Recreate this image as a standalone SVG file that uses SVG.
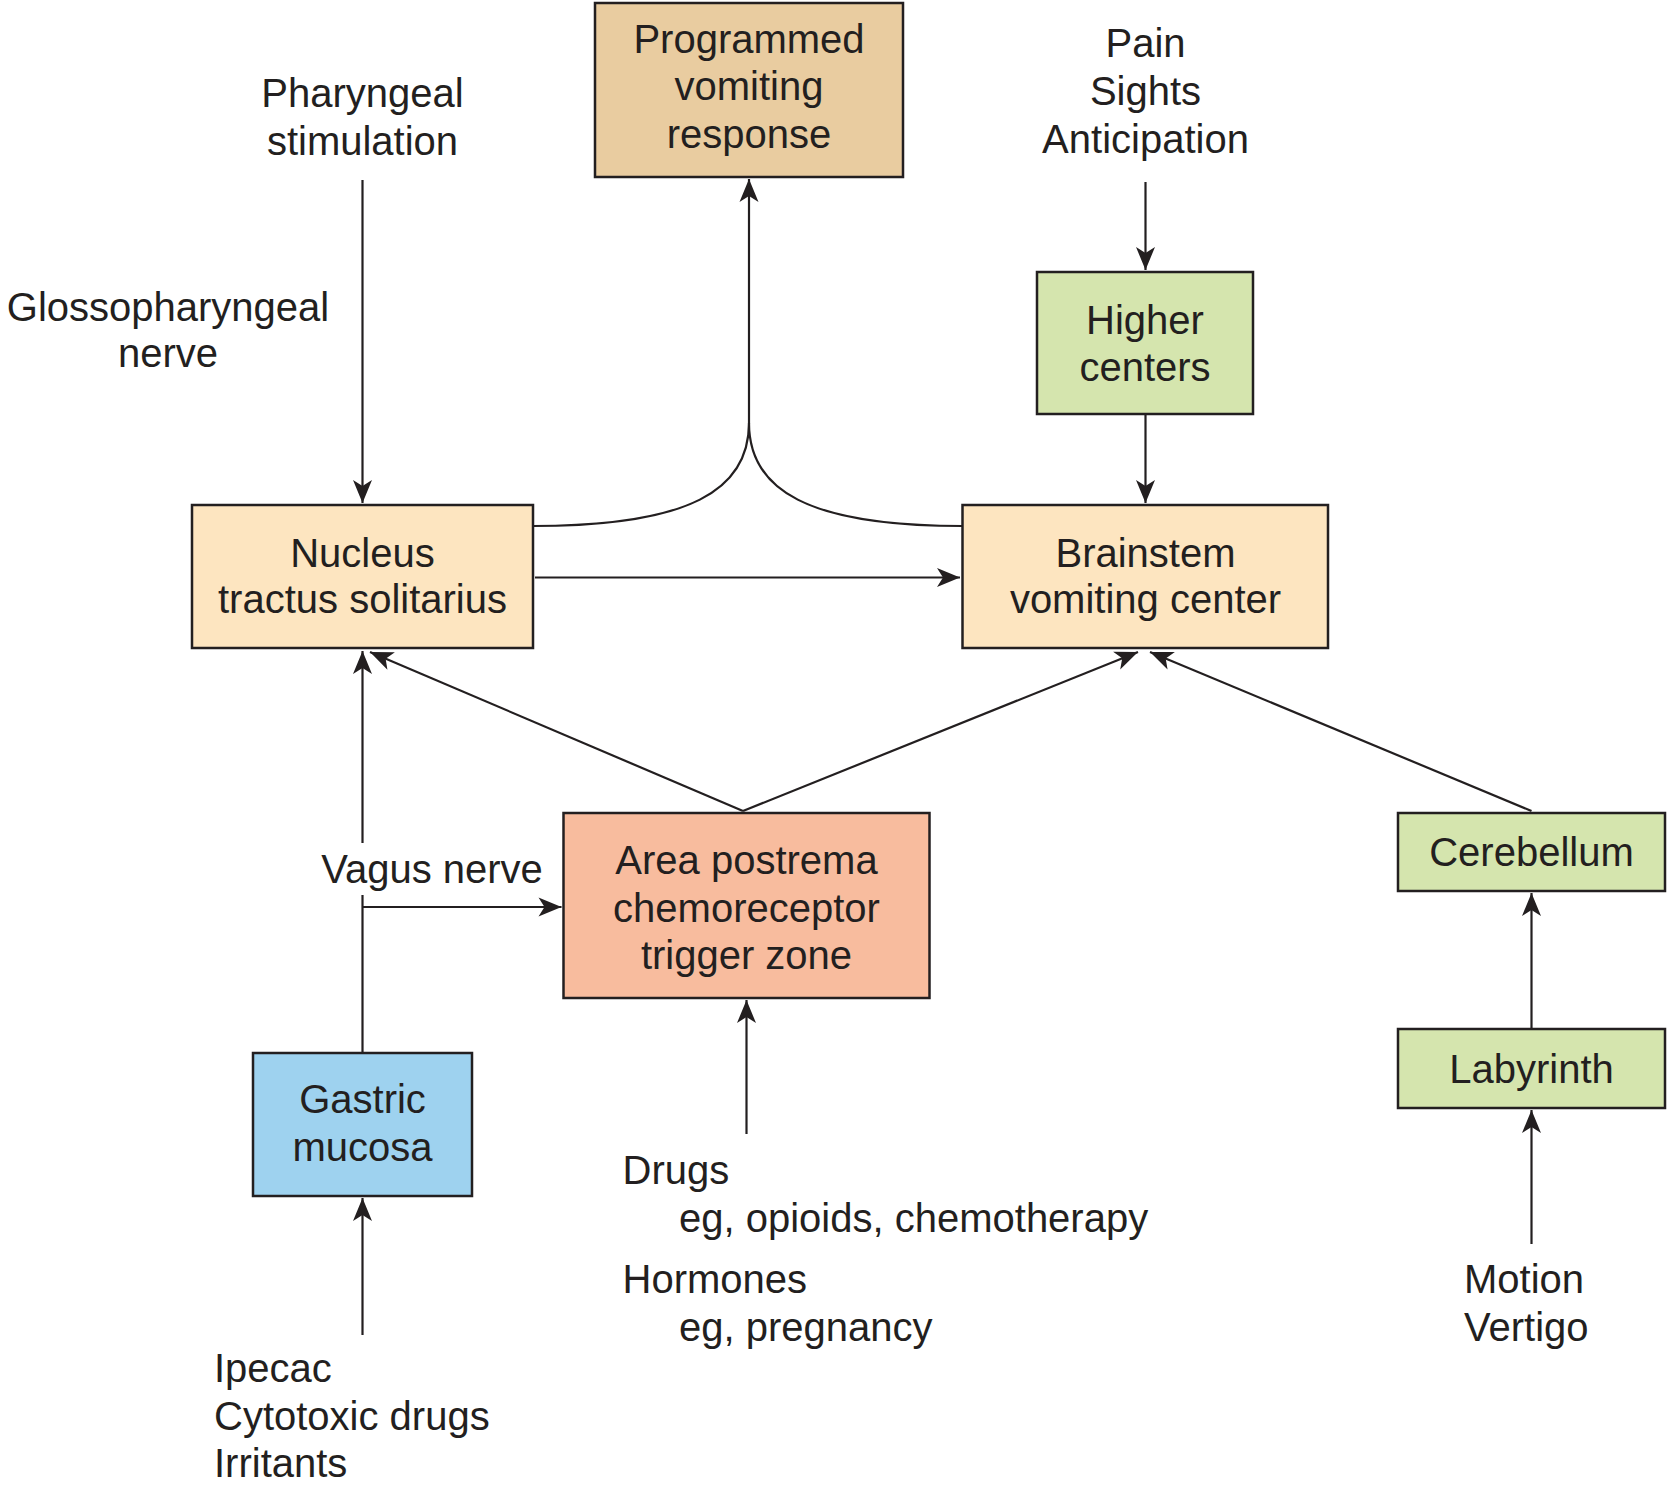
<svg xmlns="http://www.w3.org/2000/svg" width="1677" height="1494" viewBox="0 0 1677 1494">
<style>
text{font-family:"Liberation Sans",Arial,Helvetica,sans-serif;font-size:40px;fill:#231F20}
.c{text-anchor:middle}
.box{stroke:#231F20;stroke-width:2.5}
.ln{fill:none;stroke:#231F20;stroke-width:2.2}
.ar{marker-end:url(#ah)}
</style>
<defs>
<marker id="ah" markerUnits="userSpaceOnUse" markerWidth="30" markerHeight="24" viewBox="-24 -12 26 24" refX="0" refY="0" orient="auto">
<path d="M0,0 L-23,-9.5 L-17,0 L-23,9.5 Z" fill="#231F20"/>
</marker>
</defs>
<rect width="1677" height="1494" fill="#fff"/>

<g id="connectors">
<line class="ln ar" x1="362.5" y1="180" x2="362.5" y2="503"/>
<line class="ln ar" x1="1145.5" y1="182" x2="1145.5" y2="270"/>
<line class="ln ar" x1="1145.5" y1="414" x2="1145.5" y2="503"/>
<line class="ln ar" x1="535" y1="577.5" x2="960" y2="577.5"/>
<path class="ln" d="M533,526 C690,526 749,490 749,423"/>
<path class="ln" d="M962,526 C808,526 749,490 749,423"/>
<line class="ln ar" x1="749" y1="423" x2="749" y2="179"/>
<line class="ln ar" x1="743" y1="811" x2="370" y2="652"/>
<line class="ln ar" x1="743" y1="811" x2="1138" y2="652"/>
<line class="ln ar" x1="1531.5" y1="811" x2="1150" y2="652"/>
<line class="ln ar" x1="362.5" y1="843" x2="362.5" y2="651"/>
<line class="ln" x1="362.5" y1="1053" x2="362.5" y2="895"/>
<line class="ln ar" x1="362.5" y1="907" x2="561.5" y2="907"/>
<line class="ln ar" x1="746.5" y1="1134" x2="746.5" y2="1000"/>
<line class="ln ar" x1="362.5" y1="1335" x2="362.5" y2="1198"/>
<line class="ln ar" x1="1531.5" y1="1029" x2="1531.5" y2="893"/>
<line class="ln ar" x1="1531.5" y1="1244" x2="1531.5" y2="1110"/>
</g>

<g id="programmed">
<rect class="box" x="595" y="3" width="308" height="174" fill="#E9CCA0"/>
<text class="c" x="749" y="53">Programmed</text>
<text class="c" x="749" y="100">vomiting</text>
<text class="c" x="749" y="148">response</text>
</g>

<g id="pharyngeal">
<text class="c" x="362.5" y="107">Pharyngeal</text>
<text class="c" x="362.5" y="155">stimulation</text>
</g>

<g id="glossopharyngeal">
<text class="c" x="168" y="321">Glossopharyngeal</text>
<text class="c" x="168" y="367">nerve</text>
</g>

<g id="pain">
<text class="c" x="1145.5" y="57">Pain</text>
<text class="c" x="1145.5" y="105">Sights</text>
<text class="c" x="1145.5" y="153">Anticipation</text>
</g>

<g id="higher">
<rect class="box" x="1037" y="272" width="216" height="142" fill="#D5E5AE"/>
<text class="c" x="1145" y="334">Higher</text>
<text class="c" x="1145" y="381">centers</text>
</g>

<g id="nucleus">
<rect class="box" x="192" y="505" width="341" height="143" fill="#FDE5C0"/>
<text class="c" x="362.5" y="567">Nucleus</text>
<text class="c" x="362.5" y="613">tractus solitarius</text>
</g>

<g id="brainstem">
<rect class="box" x="962.5" y="505" width="365.5" height="143" fill="#FDE5C0"/>
<text class="c" x="1145.5" y="567">Brainstem</text>
<text class="c" x="1145.5" y="613">vomiting center</text>
</g>

<g id="vagus">
<text class="c" x="432" y="883">Vagus nerve</text>
</g>

<g id="area">
<rect class="box" x="563.5" y="813" width="366" height="185" fill="#F8BC9E"/>
<text class="c" x="746.5" y="874">Area postrema</text>
<text class="c" x="746.5" y="922">chemoreceptor</text>
<text class="c" x="746.5" y="969">trigger zone</text>
</g>

<g id="cerebellum">
<rect class="box" x="1398" y="813" width="267" height="78" fill="#D5E5AE"/>
<text class="c" x="1531.5" y="866">Cerebellum</text>
</g>

<g id="labyrinth">
<rect class="box" x="1398" y="1029" width="267" height="79" fill="#D5E5AE"/>
<text class="c" x="1531.5" y="1083">Labyrinth</text>
</g>

<g id="gastric">
<rect class="box" x="253" y="1053" width="219" height="143" fill="#9ED2EF"/>
<text class="c" x="362.5" y="1113">Gastric</text>
<text class="c" x="362.5" y="1161">mucosa</text>
</g>

<g id="drugs">
<text x="622.5" y="1184">Drugs</text>
<text x="679" y="1232">eg, opioids, chemotherapy</text>
<text x="622.5" y="1293">Hormones</text>
<text x="679" y="1341">eg, pregnancy</text>
</g>

<g id="ipecac">
<text x="214" y="1382">Ipecac</text>
<text x="214" y="1430">Cytotoxic drugs</text>
<text x="214" y="1477">Irritants</text>
</g>

<g id="motion">
<text x="1464" y="1293">Motion</text>
<text x="1464" y="1341">Vertigo</text>
</g>
</svg>
